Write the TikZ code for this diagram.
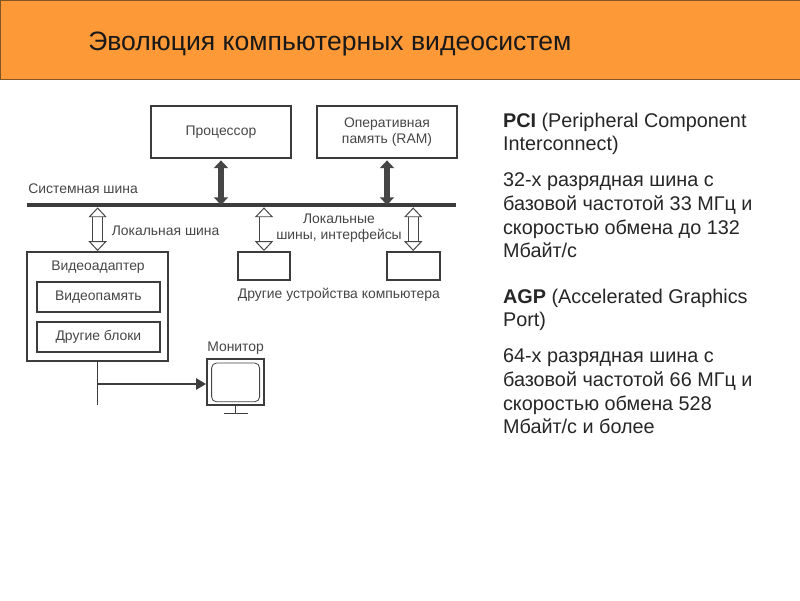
\documentclass[tikz,border=0pt]{standalone}
\usepackage{fontspec}
\setmainfont{Liberation Sans}
\usetikzlibrary{arrows.meta}
\definecolor{bandorange}{RGB}{254,153,55}
\definecolor{bandedge}{RGB}{130,85,40}
\definecolor{inkgray}{RGB}{60,60,60}
\definecolor{scangray}{RGB}{70,70,70}
\begin{document}
\begin{tikzpicture}[x=1cm,y=1cm,>=stealth]
    \tikzset{
        unit/.style={
            draw=inkgray,
            line width=1.4pt,
            inner sep=0pt,
            align=center,
            text=scangray,
            font=\fontsize{9.9}{11.5}\selectfont
        },
        caption/.style={text=scangray,font=\fontsize{9.9}{11.5}\selectfont,align=center,inner sep=0pt},
        para/.style={anchor=north west,align=left,inner sep=0pt,
            font=\fontsize{14.1}{16.85}\selectfont,text=black!85},
        solidlink/.style={draw=scangray,line width=4pt,
            {Triangle[length=5.5pt,width=10pt]}-{Triangle[length=5.5pt,width=10pt]},shorten <=1pt},
        hollowlink/.style={draw=scangray,line width=0.7pt,double=white,double distance=6.4pt,
            {Triangle[open,fill=white,length=7pt,width=13pt]}-{Triangle[open,fill=white,length=7pt,width=13pt]}}
    }
    \useasboundingbox (0,0) rectangle (20,15);
    \fill[white] (0,0) rectangle (20,15);

    \node[draw=bandedge,line width=0.7pt,fill=bandorange,minimum width=20cm,minimum height=1.98cm,
        anchor=north west] (band) at (0,15) {};
    \node[anchor=west,inner sep=0pt,font=\fontsize{18.9}{20}\selectfont,text=black!90] (title) at (2.2,13.895)
        {Эволюция компьютерных видеосистем};

    \node[unit,minimum width=3.52cm,minimum height=1.3cm] (cpu) at (5.525,11.7) {Процессор};
    \node[unit,minimum width=3.52cm,minimum height=1.3cm] (ram) at (9.675,11.7) {Оперативная\\память (RAM)};

    \coordinate (busl) at (0.68,9.875);
    \coordinate (busr) at (11.4,9.875);
    \draw[draw=inkgray,line width=3pt] (busl) -- (busr);
    \node[caption,anchor=west] (buslabel) at (0.7,10.275) {Системная шина};

    \node[unit,minimum width=3.52cm,minimum height=2.72cm] (adapter) at (2.44,7.34) {};
    \node[caption] (adapterlabel) at (2.45,8.33) {Видеоадаптер};
    \node[unit,minimum width=3.08cm,minimum height=0.75cm] (vmem) at (2.46,7.575) {Видеопамять};
    \node[unit,minimum width=3.08cm,minimum height=0.75cm] (blocks) at (2.46,6.575) {Другие блоки};

    \node[unit,minimum width=1.32cm,minimum height=0.7cm] (devl) at (6.6,8.35) {};
    \node[unit,minimum width=1.32cm,minimum height=0.7cm] (devr) at (10.33,8.35) {};
    \node[caption] (devlabel) at (8.47,7.62) {Другие устройства компьютера};

    \node[caption] (locallabel) at (4.14,9.24) {Локальная шина};
    \node[caption] (ifacelabel) at (8.475,9.29) {Локальные\\шины, интерфейсы};

    \draw[solidlink] (cpu.south) -- (cpu.south |- busl);
    \draw[solidlink] (ram.south) -- (ram.south |- busl);
    \draw[hollowlink] (adapter.north |- busl) ++(0,-0.06) -- (adapter.north);
    \draw[hollowlink] (devl.north |- busl) ++(0,-0.06) -- (devl.north);
    \draw[hollowlink] (devr.north |- busl) ++(0,-0.06) -- (devr.north);

    % monitor
    \node[caption] (monlabel) at (5.89,6.3) {Монитор};
    \node[draw=inkgray,line width=1.4pt,minimum width=1.43cm,minimum height=1.15cm,inner sep=0pt] (mon) at (5.89,5.45) {};
    \node[draw=scangray,line width=0.6pt,rounded corners=3.5pt,minimum width=1.2cm,minimum height=0.97cm,inner sep=0pt] (screen) at (5.89,5.44) {};
    \coordinate (standb) at (5.89,4.67);
    \draw[draw=inkgray,line width=0.9pt] (mon.south) -- (standb);
    \draw[draw=inkgray,line width=0.9pt] (standb) ++(-0.3,0) -- ++(0.6,0);

    \coordinate (tail) at (2.44,4.88);
    \coordinate (branch) at (2.44,5.4);
    \draw[draw=inkgray,line width=1.1pt] (adapter.south) -- (tail);
    \draw[draw=inkgray,line width=1.1pt,-{Triangle[length=7pt,width=8pt]}] (branch) -- (branch -| mon.west);

    % right text
    \node[para] (pci) at (12.57,12.19) {\textbf{PCI} (Peripheral Component\\Interconnect)};
    \node[para] (pcitext) at (12.57,10.68) {32-х разрядная шина с\\базовой частотой 33 МГц и\\скоростью обмена до 132\\Мбайт/с};
    \node[para] (agp) at (12.57,7.79) {\textbf{AGP} (Accelerated Graphics\\Port)};
    \node[para] (agptext) at (12.57,6.28) {64-х разрядная шина с\\базовой частотой 66 МГц и\\скоростью обмена 528\\Мбайт/с и более};
\end{tikzpicture}
\end{document}
